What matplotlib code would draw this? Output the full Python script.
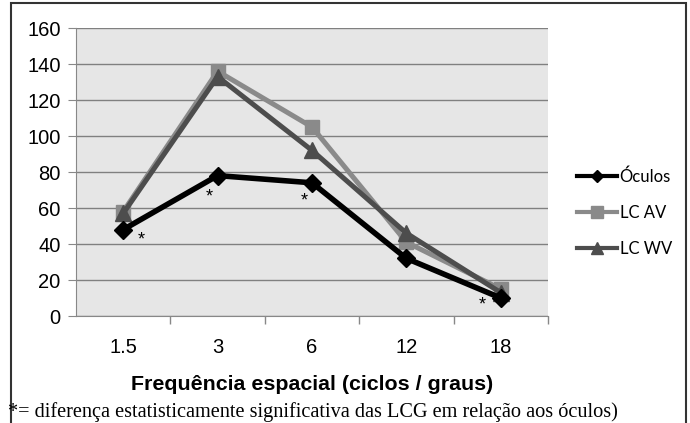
import matplotlib.pyplot as plt
from matplotlib.lines import Line2D
from matplotlib.patches import Rectangle

freqs = ['1.5', '3', '6', '12', '18']
oculos = [48, 78, 74, 32, 10]
lc_av = [58, 136, 105, 41, 15]
lc_wv = [57, 133, 92, 46, 13]
# significance asterisks (x in category units, y in data units)
stars_x = [0.19, 0.91, 1.92, 3.8]
stars_y = [42, 66, 64, 6]

fig = plt.figure(figsize=(6.9, 4.23), dpi=100)
ax = fig.add_axes([76/690, 1 - 316/423, (548-76)/690, (316-28)/423])
ax.set_facecolor('#e6e6e6')

x = list(range(len(freqs)))
ax.plot(x, lc_av, color='#8a8a8a', lw=3.6, marker='s', ms=10.5, label='LC AV', zorder=3)
ax.plot(x, lc_wv, color='#4d4d4d', lw=3.6, marker='^', ms=12, label='LC WV', zorder=4)
ax.plot(x, oculos, color='black', lw=4, marker='D', ms=9, label='Óculos', zorder=5)

for sx, sy in zip(stars_x, stars_y):
    ax.text(sx, sy, '*', ha='center', va='center', fontsize=13, color='black',
            family='Liberation Sans', zorder=6)

ax.set_xlim(-0.5, 4.5)
ax.set_ylim(0, 160)
ax.set_yticks(range(0, 161, 20))
ax.set_xticks(x)
ax.set_xticklabels(freqs)
ax.set_xticks([0.5, 1.5, 2.5, 3.5, 4.5], minor=True)
ax.tick_params(axis='x', which='major', length=0, pad=16, labelsize=14.5)
ax.tick_params(axis='x', which='minor', length=6, color='#888888', width=1)
ax.tick_params(axis='y', length=6, color='#888888', labelsize=14.5, pad=5)
for lab in ax.get_xticklabels() + ax.get_yticklabels():
    lab.set_family('Liberation Sans')
ax.yaxis.grid(True, color='#808080', lw=1)
ax.set_axisbelow(True)
for s in ['top', 'right']:
    ax.spines[s].set_visible(False)
ax.spines['left'].set_color('#888888')
ax.spines['bottom'].set_color('#888888')

ax.set_xlabel('Frequência espacial (ciclos / graus)', fontsize=15.4, fontweight='bold',
              family='Liberation Sans', labelpad=13)

handles = [
    Line2D([], [], color='black', lw=3, marker='D', ms=6),
    Line2D([], [], color='#8a8a8a', lw=3, marker='s', ms=8),
    Line2D([], [], color='#4d4d4d', lw=3, marker='^', ms=8),
]
fig.legend(handles, ['Óculos', 'LC AV', 'LC WV'], loc='center left',
           bbox_to_anchor=(562/690, 1 - 213/423), frameon=False,
           prop={'family': 'Lato', 'size': 12}, handlelength=2.4,
           handletextpad=0.15, labelspacing=1.2)

fig.text(8/690, 1 - 412/423,
         '*= diferença estatisticamente significativa das LCG em relação aos óculos)',
         fontsize=14.6, family='Liberation Serif', va='center', ha='left')

fig.patches.append(Rectangle((11/690, -0.1), (686-11)/690, 1.1 - 3/423,
                             transform=fig.transFigure, fill=False,
                             edgecolor='#333333', lw=1.5))

fig.savefig('out.png', dpi=100)
